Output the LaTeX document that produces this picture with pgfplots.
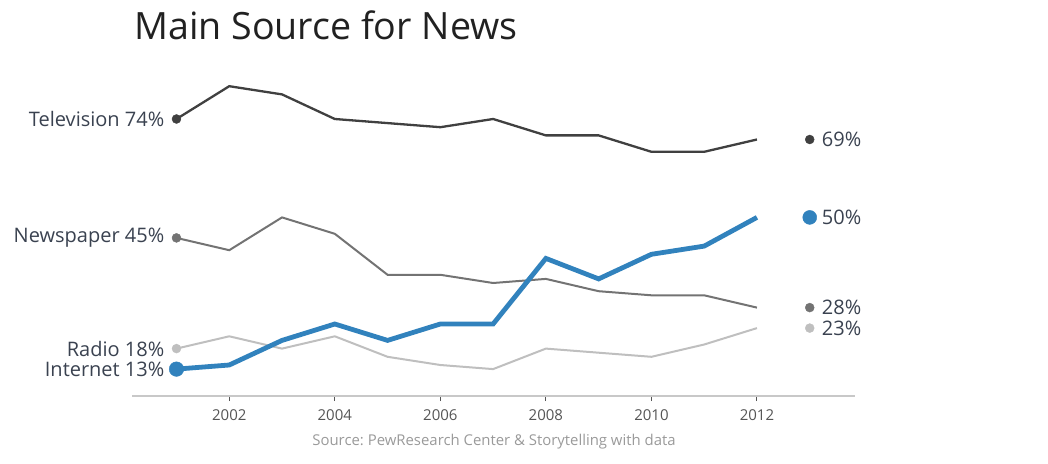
\documentclass[border=0pt]{standalone}
\usepackage{pgfplots}
\pgfplotsset{compat=1.18}
\usepackage{fontspec}
\setmainfont{Open Sans}
\frenchspacing
\definecolor{tvc}{HTML}{404040}
\definecolor{npc}{HTML}{737373}
\definecolor{rdc}{HTML}{BFBFBF}
\definecolor{inc}{HTML}{3182BD}
\definecolor{axc}{HTML}{C8C8C8}
\definecolor{labc}{HTML}{3A4250}
\definecolor{tickc}{HTML}{555555}
\definecolor{srcc}{HTML}{9A9A9A}
\begin{document}
\begin{tikzpicture}
\path[use as bounding box] (0,0) rectangle (1048pt,463pt);
\node[anchor=base west, inner sep=0pt, text=black!87, font=\fontsize{37.6}{40}\selectfont] at (134pt,423pt) {Main Source for News};
\node[anchor=base, inner sep=0pt, text=srcc, font=\fontsize{14.9}{16}\selectfont] at (494pt,18pt) {Source: PewResearch Center \& Storytelling with data};
\begin{axis}[
  at={(132pt,67pt)}, anchor=south west,
  scale only axis, width=723pt, height=322.1pt,
  xmin=2000.157, xmax=2013.858, ymin=6.44, ymax=85,
  axis x line=bottom, axis y line=none,
  axis line style={draw=axc, line width=2.5pt, -},
  xtick={2002,2004,2006,2008,2010,2012},
  xticklabels={2002,2004,2006,2008,2010,2012},
  tick align=outside, major tick length=5pt,
  tick style={draw=tickc, line width=1pt},
  xticklabel style={font=\fontsize{15}{16}\selectfont, text=tickc, inner sep=0pt, anchor=north, yshift=-8pt},
  ytick=\empty,
  clip=false,
]
\addplot[rdc, line width=2pt, mark=*, mark size=4.5pt, mark indices={1}, mark options={solid, fill=rdc, draw=rdc, line width=0.4pt}] coordinates {
(2001,18)(2002,21)(2003,18)(2004,21)(2005,16)(2006,14)(2007,13)(2008,18)(2009,17)(2010,16)(2011,19)(2012,23)};
\addplot[npc, line width=2pt, mark=*, mark size=4.5pt, mark indices={1}, mark options={solid, fill=npc, draw=npc, line width=0.4pt}] coordinates {
(2001,45)(2002,42)(2003,50)(2004,46)(2005,36)(2006,36)(2007,34)(2008,35)(2009,32)(2010,31)(2011,31)(2012,28)};
\addplot[tvc, line width=2.3pt, mark=*, mark size=4.5pt, mark indices={1}, mark options={solid, fill=tvc, draw=tvc, line width=0.4pt}] coordinates {
(2001,74)(2002,82)(2003,80)(2004,74)(2005,73)(2006,72)(2007,74)(2008,70)(2009,70)(2010,66)(2011,66)(2012,69)};
\addplot[inc, line width=4.8pt, mark=*, mark size=7.3pt, mark indices={1}, mark options={solid, fill=inc, draw=inc, line width=0.4pt}] coordinates {
(2001,13)(2002,14)(2003,20)(2004,24)(2005,20)(2006,24)(2007,24)(2008,40)(2009,35)(2010,41)(2011,43)(2012,50)};
% end markers
\addplot[only marks, mark=*, mark size=4.5pt, mark options={fill=tvc, draw=tvc, line width=0.4pt}] coordinates {(2013,69)};
\addplot[only marks, mark=*, mark size=7pt, mark options={fill=inc, draw=inc, line width=0.4pt}] coordinates {(2013,50)};
\addplot[only marks, mark=*, mark size=4.5pt, mark options={fill=npc, draw=npc, line width=0.4pt}] coordinates {(2013,28)};
\addplot[only marks, mark=*, mark size=4.5pt, mark options={fill=rdc, draw=rdc, line width=0.4pt}] coordinates {(2013,23)};
% labels
\tikzset{lab/.style={inner sep=0pt, text=labc, font=\fontsize{20}{22}\selectfont}}
\node[lab, anchor=east, xshift=-12pt] at (axis cs:2001,74) {Television 74\%};
\node[lab, anchor=east, xshift=-12pt] at (axis cs:2001,45) {Newspaper 45\%};
\node[lab, anchor=east, xshift=-12pt] at (axis cs:2001,18) {Radio 18\%};
\node[lab, anchor=east, xshift=-12pt] at (axis cs:2001,13) {Internet 13\%};
\node[lab, anchor=west, xshift=12pt] at (axis cs:2013,69) {69\%};
\node[lab, anchor=west, xshift=12pt] at (axis cs:2013,50) {50\%};
\node[lab, anchor=west, xshift=12pt] at (axis cs:2013,28) {28\%};
\node[lab, anchor=west, xshift=12pt] at (axis cs:2013,23) {23\%};
\end{axis}
\end{tikzpicture}
\end{document}
